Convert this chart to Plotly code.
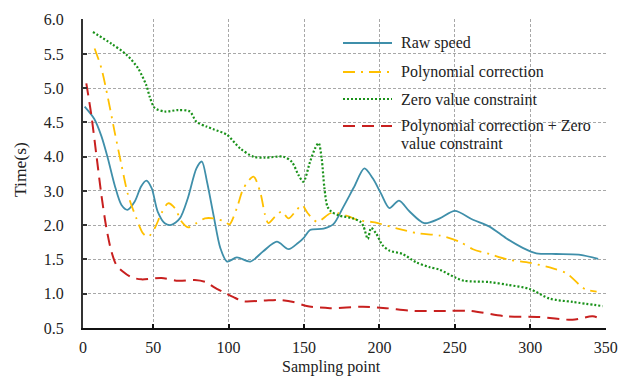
import numpy as np
import plotly.graph_objects as go

# ---- axis tick labels (the y axis is labelled unevenly) ----
Y_TICK_LABELS = [0.5, 1.0, 1.5, 2.0, 3.0, 4.0, 4.5, 5.0, 5.5, 6.0]
X_TICKS = [0, 50, 100, 150, 200, 250, 300, 350]

# ---- series ----
raw_x = [4.6, 11, 15.7, 20, 24.5, 29, 33, 37.8, 42, 45.5, 49, 53, 57.7, 62, 67.7, 73, 78.7, 82.3,
         85.7, 90, 94.5, 99, 105.5, 114.4, 123, 132, 139.8, 146, 150, 154, 163, 169.5, 176, 183,
         190, 195.6, 201, 206.6, 213, 220, 229.7, 240, 250, 262, 273, 284, 295, 304, 317, 332, 345]
raw_y = [4.73, 4.55, 4.30, 3.95, 3.17, 2.59, 2.45, 2.69, 3.13, 3.30, 3.08, 2.40, 2.06, 2.01, 2.20, 2.79, 3.66, 3.86,
         3.27, 2.30, 1.67, 1.47, 1.53, 1.47, 1.62, 1.76, 1.65, 1.74, 1.82, 1.93, 1.95, 2.03, 2.53, 3.10,
         3.66, 3.37, 2.93, 2.50, 2.72, 2.40, 2.06, 2.20, 2.42, 2.16, 1.98, 1.81, 1.67, 1.59, 1.58, 1.57, 1.51]

poly_x = [11.2, 15.7, 20.1, 24.5, 29, 33.4, 38.9, 43.3, 46.7, 51.1, 55.5, 59.9, 64.4, 68.8, 73.2, 78.7,
          84.3, 90, 97.8, 100.5, 105.5, 109.9, 116.5, 120.9, 124.2, 126.4, 130.8, 135.3, 139.7, 145.2,
          148.7, 152.5, 158.7, 167.5, 173, 180, 186, 197, 212, 226, 240, 253, 262, 273, 285, 300, 315,
          324, 332.6, 337, 344]
poly_y = [5.58, 5.29, 4.85, 4.36, 3.76, 2.88, 2.20, 1.88, 1.83, 1.96, 2.35, 2.64, 2.50, 2.11, 1.97, 2.06,
          2.20, 2.20, 2.10, 2.02, 2.50, 3.08, 3.42, 2.98, 2.30, 2.06, 2.25, 2.40, 2.20, 2.45,
          2.59, 2.35, 2.10, 2.35, 2.35, 2.25, 2.15, 2.08, 1.95, 1.88, 1.85, 1.76, 1.65, 1.58, 1.50, 1.45, 1.37,
          1.30, 1.13, 1.06, 1.03]

zero_x = [10.1, 22.3, 32.3, 40, 45.5, 47.8, 51.1, 57.7, 66.6, 74.3, 78.7, 85.4, 90, 98.9, 107.7, 116.5,
          124.2, 136.3, 141.9, 146.3, 149.6, 154, 157.3, 159.7, 161.7, 163.5, 165.5, 168, 173.6, 182.4,
          187.4, 189.5, 192.3, 194.5, 197.8, 202, 206.6, 215.4, 224.2, 233, 240, 250, 256, 273, 285,
          299.6, 312.8, 328.2, 348]
zero_y = [5.82, 5.65, 5.49, 5.29, 5.04, 4.87, 4.71, 4.66, 4.68, 4.66, 4.51, 4.44, 4.40, 4.32, 4.12, 4.00,
          3.97, 4.00, 3.85, 3.47, 3.27, 3.85, 4.12, 4.20, 3.95, 3.10, 2.55, 2.40, 2.28, 2.20,
          2.10, 1.98, 1.80, 1.96, 1.88, 1.71, 1.63, 1.58, 1.46, 1.39, 1.35, 1.24, 1.19, 1.17, 1.13,
          1.07, 0.93, 0.88, 0.82]

both_x = [5.7, 9, 12.4, 15.7, 19, 22.3, 25.6, 30.1, 35.6, 42.2, 55.5, 66.6, 77.6, 85, 90, 96.7, 103.3,
          109.9, 123.1, 134.1, 143, 151.8, 167.2, 189, 204.4, 222, 246.3, 260, 284, 306, 328, 341.4, 348]
both_y = [5.07, 4.61, 4.02, 2.88, 1.96, 1.62, 1.42, 1.32, 1.24, 1.21, 1.23, 1.19, 1.20, 1.17, 1.10, 1.02, 0.95,
          0.89, 0.90, 0.91, 0.88, 0.82, 0.79, 0.81, 0.79, 0.75, 0.75, 0.75, 0.67, 0.66, 0.62, 0.67, 0.62]

names = ["Raw speed", "Polynomial correction", "Zero value constraint",
         "Polynomial correction + Zero<br>value constraint"]

tick_index = np.arange(len(Y_TICK_LABELS))


def to_axis(vals):
    # place each value on the unevenly-labelled axis
    return np.interp(vals, Y_TICK_LABELS, tick_index)


styles = [
    dict(color="#3F8FAA", width=1.8, dash="solid"),
    dict(color="#FFC000", width=1.8, dash="12px,6px,2px,6px"),
    dict(color="#1A921A", width=2.2, dash="2px,2px"),
    dict(color="#C8201F", width=2.0, dash="12px,7px"),
]
series = [(raw_x, raw_y), (poly_x, poly_y), (zero_x, zero_y), (both_x, both_y)]

fig = go.Figure()
for (xs, ys), st, nm in zip(series, styles, names):
    fig.add_trace(go.Scatter(x=xs, y=to_axis(ys), mode="lines", name=nm,
                             line=dict(shape="spline", smoothing=0.8, **st)))

X0 = 3.5
font = "Liberation Serif, Times New Roman, serif"
W, H = 619, 383
ML, MR, MT, MB = 83, 13, 19, 55
fig.update_layout(
    width=W, height=H,
    margin=dict(l=ML, r=MR, t=MT, b=MB, autoexpand=False),
    paper_bgcolor="white", plot_bgcolor="white",
    showlegend=False,
    font=dict(family=font, size=16, color="#222"),
)
fig.update_xaxes(
    range=[X0, 350.2], automargin=False,
    tickvals=[X0] + X_TICKS[1:], ticktext=[str(v) for v in X_TICKS],
    showgrid=True, gridcolor="#A8A8A8", griddash="3px,2px", gridwidth=1,
    showline=True, linecolor="#111", linewidth=2,
    ticks="inside", ticklen=4, tickwidth=1.5, tickcolor="#111",
    zeroline=False, ticklabelstandoff=4,
    tickfont=dict(size=16),
)
fig.update_yaxes(
    range=[0, 9.02], automargin=False,
    tickvals=list(tick_index), ticktext=[f"{v:.1f}" for v in Y_TICK_LABELS],
    showgrid=True, gridcolor="#A8A8A8", griddash="3px,2px", gridwidth=1,
    showline=True, linecolor="#333", linewidth=2,
    ticks="inside", ticklen=4, tickwidth=1.5, tickcolor="#333",
    zeroline=False, ticklabelstandoff=14,
    tickfont=dict(size=16),
)

plot_w, plot_h = W - ML - MR, H - MT - MB


def px_to_paper(px, py):
    return (px - ML) / plot_w, (MT + plot_h - py) / plot_h


# axis titles
tx, ty = px_to_paper(20, 170)
fig.add_annotation(xref="paper", yref="paper", x=tx, y=ty, text="Time(s)", textangle=-90,
                   showarrow=False, xanchor="center", yanchor="middle",
                   font=dict(size=17.5, family=font, color="#222"))
tx, ty = px_to_paper(331, 367)
fig.add_annotation(xref="paper", yref="paper", x=tx, y=ty, text="Sampling point",
                   showarrow=False, xanchor="center", yanchor="middle",
                   font=dict(size=16, family=font, color="#222"))

# ---- legend drawn manually (transparent, no box) ----
leg_rows = [43, 72, 99, 126]
for st, nm, py in zip(styles, names, leg_rows):
    x0, y0 = px_to_paper(343, py)
    x1, _ = px_to_paper(392, py)
    fig.add_shape(type="line", xref="paper", yref="paper", x0=x0, x1=x1, y0=y0, y1=y0,
                  line=dict(color=st["color"], width=st["width"], dash=st["dash"]))
    parts = nm.split("<br>")
    for k, part in enumerate(parts):
        tx, ty = px_to_paper(399, py + 17 * k)
        fig.add_annotation(xref="paper", yref="paper", x=tx, y=ty, text=part,
                           showarrow=False, xanchor="left", yanchor="middle",
                           font=dict(size=16, family=font, color="#222"))

fig.write_html(
    "out.html",
    config={"displayModeBar": False},
    post_script="document.body.style.margin='0';document.body.style.overflow='hidden';",
)
